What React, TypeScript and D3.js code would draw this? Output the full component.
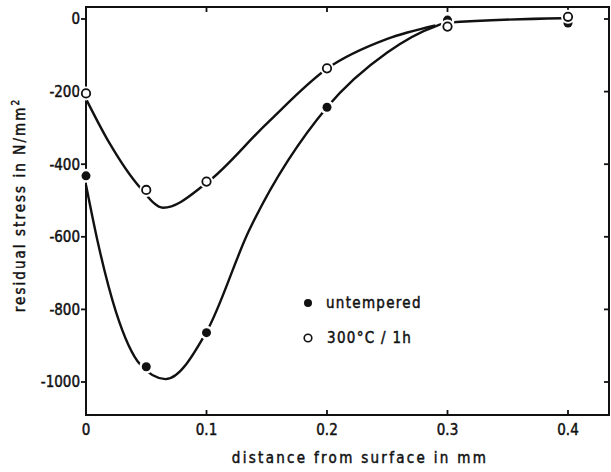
import React from "react";
import * as d3 from "d3";

const xTicks = [0, 0.1, 0.2, 0.3, 0.4];
const yTicks = [0, -200, -400, -600, -800, -1000];

const untemperedX = [0, 0.05, 0.1, 0.2, 0.3, 0.4];
const untemperedY = [-432, -958, -864, -243, -3, -11];
const temperedX = [0, 0.05, 0.1, 0.2, 0.3, 0.4];
const temperedY = [-205, -471, -448, -136, -21, 6];

// fitted curves as drawn in the figure
const untemperedCurveX = [0, 0.01, 0.025, 0.045, 0.066, 0.1, 0.135, 0.2, 0.25, 0.29, 0.3, 0.395];
const untemperedCurveY = [-457, -618, -808, -952, -992, -862, -585, -243, -92, -20, -10, 2];
const temperedCurveX = [0, 0.02, 0.045, 0.064, 0.1, 0.15, 0.2, 0.25, 0.29];
const temperedCurveY = [-220, -345, -465, -520, -452, -288, -137, -55, -18];

const legendLabels = ["untempered", "300°C / 1h"];

export default function App() {
  const W = 611, H = 472;
  const x = d3.scaleLinear().domain([0, 0.4]).range([86, 568]);
  const y = d3.scaleLinear().domain([0, -1000]).range([19, 382]);
  const left = 86, right = 609, top = 7, bottom = 415;
  const line = d3.line<[number, number]>().x(d => x(d[0])).y(d => y(d[1])).curve(d3.curveMonotoneX);
  const uc = untemperedCurveX.map((v, i) => [v, untemperedCurveY[i]] as [number, number]);
  const tc = temperedCurveX.map((v, i) => [v, temperedCurveY[i]] as [number, number]);
  const font = "'DejaVu Sans Condensed', 'DejaVu Sans', sans-serif";
  const ink = "#111";
  const txt = { fill: ink, stroke: ink, strokeWidth: 0.45 };
  return (
    <svg width={W} height={H} style={{ position: "absolute", left: 0, top: 0, background: "#fff" }} fontFamily={font}>
      <rect x={0} y={0} width={W} height={H} fill="#fff" />
      {/* frame */}
      <rect x={left} y={top} width={right - left} height={bottom - top} fill="none" stroke={ink} strokeWidth={2} />
      {yTicks.map(t => (
        <g key={"y" + t}>
          <line x1={left - 5} x2={left} y1={y(t)} y2={y(t)} stroke={ink} strokeWidth={1.8} />
          <line x1={right - 5} x2={right} y1={y(t)} y2={y(t)} stroke={ink} strokeWidth={1.8} />
          <text x={left - 6} y={y(t)} dy="0.36em" textAnchor="end" fontSize={15} {...txt}>{t === 0 ? "0" : "-" + Math.abs(t)}</text>
        </g>
      ))}
      {xTicks.map(t => (
        <g key={"x" + t}>
          <line x1={x(t)} x2={x(t)} y1={bottom} y2={bottom - 5} stroke={ink} strokeWidth={1.8} />
          <line x1={x(t)} x2={x(t)} y1={top} y2={top + 5} stroke={ink} strokeWidth={1.8} />
          <text x={x(t)} y={435} textAnchor="middle" fontSize={15} {...txt}>{t === 0 ? "0" : t.toFixed(1)}</text>
        </g>
      ))}
      <text x={360} y={463} textAnchor="middle" fontSize={15} letterSpacing={2.3} {...txt}>distance from surface in mm</text>
      <text transform="translate(25,205) rotate(-90)" textAnchor="middle" fontSize={15} letterSpacing={2.05} {...txt}>
        residual stress in N/mm<tspan dy={-6} fontSize={10}>2</tspan>
      </text>
      {/* curves */}
      <path d={line(uc) || ""} fill="none" stroke={ink} strokeWidth={2.4} />
      <path d={line(tc) || ""} fill="none" stroke={ink} strokeWidth={2.4} />
      {/* markers */}
      {untemperedX.map((v, i) => (
        <g key={"u" + i}>
          <circle cx={x(v)} cy={y(untemperedY[i])} r={7} fill="#fff" />
          <circle cx={x(v)} cy={y(untemperedY[i])} r={4.5} fill={ink} />
        </g>
      ))}
      {temperedX.map((v, i) => (
        <g key={"t" + i}>
          <circle cx={x(v)} cy={y(temperedY[i])} r={7} fill="#fff" />
          <circle cx={x(v)} cy={y(temperedY[i])} r={4.2} fill="#fff" stroke={ink} strokeWidth={1.8} />
        </g>
      ))}
      {/* legend */}
      <circle cx={308} cy={303} r={4} fill={ink} />
      <text x={326} y={308} fontSize={15} letterSpacing={1.3} {...txt}>{legendLabels[0]}</text>
      <circle cx={308} cy={338} r={3.8} fill="#fff" stroke={ink} strokeWidth={1.6} />
      <text x={327} y={343} fontSize={15} letterSpacing={1.3} {...txt}>{legendLabels[1]}</text>
    </svg>
  );
}
